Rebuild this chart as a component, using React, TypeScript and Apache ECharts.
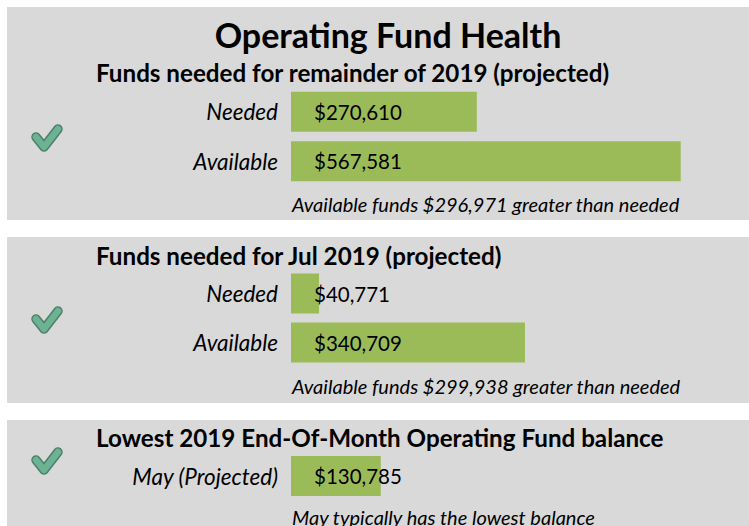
import React, { useEffect, useRef } from "react";
import * as echarts from "echarts";

const mainTitle = "Operating Fund Health";
const sectionTitles = [
  "Funds needed for remainder of 2019 (projected)",
  "Funds needed for Jul 2019 (projected)",
  "Lowest 2019 End-Of-Month Operating Fund balance",
];
const footnotes = [
  "Available funds $296,971 greater than needed",
  "Available funds $299,938 greater than needed",
  "May typically has the lowest balance",
];
const panel1Categories = ["Needed", "Available"];
const panel1Values = [270610, 567581];
const panel2Categories = ["Needed", "Available"];
const panel2Values = [40771, 340709];
const panel3Categories = ["May (Projected)"];
const panel3Values = [130785];

const FONT = "Lato, 'Open Sans', sans-serif";
const GREEN = "#9bbb59";
const GRAY = "#d9d9d9";

function fmt(v: number) {
  return "$" + v.toLocaleString("en-US");
}

export default function App() {
  const ref = useRef<HTMLDivElement>(null);
  useEffect(() => {
    if (!ref.current) return;
    const chart = echarts.init(ref.current, undefined, { renderer: "svg" });

    const panels = [
      { cats: panel1Categories, vals: panel1Values, top: 87, height: 99 },
      { cats: panel2Categories, vals: panel2Values, top: 269, height: 98 },
      { cats: panel3Categories, vals: panel3Values, top: 451, height: 50 },
    ];

    const grids = panels.map((p) => ({
      left: 291,
      width: 412,
      top: p.top,
      height: p.height,
      containLabel: false,
    }));
    const xAxes = panels.map((_, i) => ({
      type: "value",
      gridIndex: i,
      min: 0,
      max: 600000,
      show: false,
    }));
    const yAxes = panels.map((p, i) => ({
      type: "category",
      gridIndex: i,
      data: p.cats,
      inverse: true,
      axisLine: { show: false },
      axisTick: { show: false },
      splitLine: { show: false },
      axisLabel: {
        margin: 13,
        fontFamily: FONT,
        fontStyle: "italic",
        fontSize: 22.5,
        color: "#000",
      },
    }));
    const series = panels.map((p, i) => ({
      type: "bar",
      xAxisIndex: i,
      yAxisIndex: i,
      data: p.vals,
      barWidth: 40,
      itemStyle: { color: GREEN },
      label: {
        show: true,
        position: [23, "50%"],
        align: "left",
        verticalAlign: "middle",
        formatter: (d: any) => fmt(d.value),
        fontFamily: FONT,
        fontSize: 20.5,
        color: "#000",
      },
    }));

    const bgRects = [
      { y: 7, h: 213 },
      { y: 237, h: 166 },
      { y: 420, h: 106 },
    ].map((r) => ({
      type: "rect",
      z: -10,
      shape: { x: 7, y: r.y, width: 742, height: r.h },
      style: { fill: GRAY },
    }));

    const checkCenters = [139, 321, 462];
    const checks: any[] = [];
    checkCenters.forEach((cy) => {
      const pts = [
        [36, cy - 2],
        [44, cy + 8],
        [58, cy - 10],
      ];
      checks.push({
        type: "polyline",
        z: 5,
        shape: { points: pts },
        style: { stroke: "#4e7f6c", lineWidth: 9.5, fill: null, lineCap: "round", lineJoin: "round" },
      });
      checks.push({
        type: "polyline",
        z: 6,
        shape: { points: pts },
        style: { stroke: "#6cb394", lineWidth: 6.5, fill: null, lineCap: "round", lineJoin: "round" },
      });
    });

    const texts: any[] = [
      {
        type: "text",
        z: 5,
        x: 388,
        y: 34,
        style: {
          text: mainTitle,
          font: `bold 34px ${FONT}`,
          fill: "#000",
          textAlign: "center",
          textVerticalAlign: "middle",
        },
      },
    ];
    const subY = [72, 255, 437];
    sectionTitles.forEach((t, i) => {
      texts.push({
        type: "text",
        z: 5,
        x: 96,
        y: subY[i],
        style: {
          text: t,
          font: `bold 24.2px ${FONT}`,
          fill: "#000",
          textAlign: "left",
          textVerticalAlign: "middle",
        },
      });
    });
    const footY = [204, 386, 517];
    footnotes.forEach((t, i) => {
      texts.push({
        type: "text",
        z: 5,
        x: 292,
        y: footY[i],
        style: {
          text: t,
          font: `italic 20px ${FONT}`,
          fill: "#000",
          textAlign: "left",
          textVerticalAlign: "middle",
        },
      });
    });

    chart.setOption({
      animation: false,
      backgroundColor: "#ffffff",
      grid: grids,
      xAxis: xAxes,
      yAxis: yAxes,
      series,
      graphic: [...bgRects, ...checks, ...texts],
    } as any);

    return () => chart.dispose();
  }, []);

  return (
    <div
      ref={ref}
      style={{ position: "fixed", left: 0, top: 0, width: 749, height: 526 }}
    />
  );
}
